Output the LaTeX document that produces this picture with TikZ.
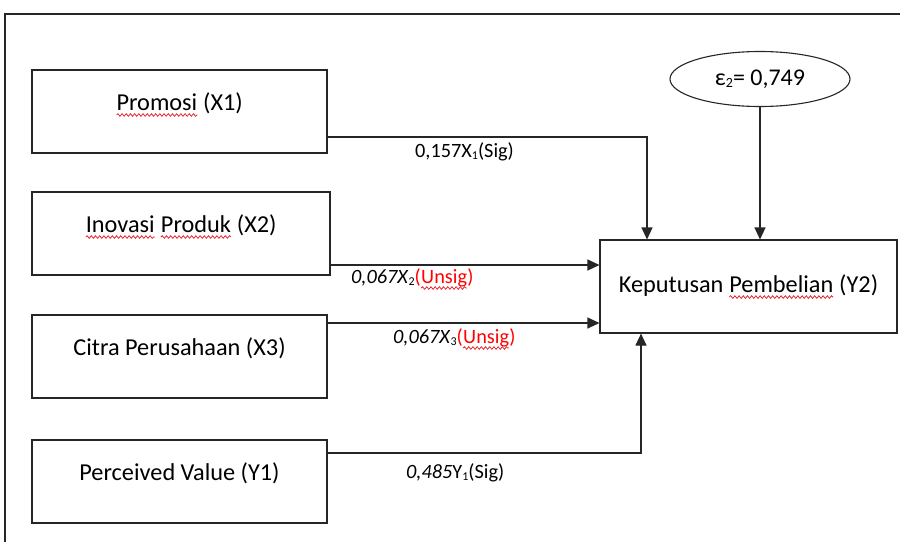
\documentclass[tikz,border=0pt]{standalone}
\usepackage{fontspec}
\setmainfont{Carlito}
\usetikzlibrary{arrows.meta,shapes.geometric,decorations.pathmorphing}
\definecolor{lineclr}{HTML}{262626}
\definecolor{waveclr}{HTML}{E8202A}
\newcommand\rwave[1]{\tikz[baseline=(rw.base),x=1pt,y=1pt]{\node[shape=rectangle,draw=none,fill=none,inner sep=0pt,outer sep=0pt,minimum width=0pt,minimum height=0pt,text height=,text depth=,anchor=base] (rw) at (0,0) {#1};
  \draw[waveclr,line width=0.75pt,decorate,decoration={snake,amplitude=1.3pt,segment length=4.2pt}] ([yshift=-5pt]rw.base west) -- ([yshift=-5pt]rw.base east);}}
\newcommand\smallsub[2]{\raisebox{-2pt}{\fontsize{#1}{#1}\selectfont\upshape #2}}
\begin{document}
\begin{tikzpicture}[x=1pt,y=-1pt,
  box/.style={draw=lineclr,line width=1.1pt,rectangle,inner sep=0pt,
    font=\fontsize{24.3}{28}\selectfont,text height=16pt,text depth=19pt},
  kbox/.style={draw=lineclr,line width=1.1pt,rectangle,inner sep=0pt,
    font=\fontsize{24.3}{28}\selectfont},
  lbl/.style={anchor=base west,inner sep=0pt,font=\fontsize{20.3}{24}\selectfont},
  arr/.style={draw=lineclr,line width=1.1pt,-{Triangle[length=12pt,width=11pt]}}]
\useasboundingbox (0,0) rectangle (900,542);
\draw[lineclr,line width=1.2pt] (5,542) -- (5,14) -- (900,14);

\node[box,minimum width=295pt,minimum height=83pt] (p) at (179.5,111.5) {\rwave{Promosi} (X1)};
\node[box,minimum width=298pt,minimum height=83pt] (i) at (181,233.5) {\rwave{Inovasi} \rwave{Produk} (X2)};
\node[box,minimum width=295pt,minimum height=83pt] (c) at (179.5,356.5) {Citra Perusahaan (X3)};
\node[box,minimum width=295pt,minimum height=83pt] (v) at (179.5,481.5) {Perceived Value (Y1)};
\node[kbox,minimum width=297pt,minimum height=93pt] (k) at (748.5,286.5) {Keputusan \rwave{Pembelian} (Y2)};
\node[ellipse,draw=lineclr,line width=1.1pt,minimum width=180pt,minimum height=55pt,inner sep=0pt,
  font=\fontsize{24}{28}\selectfont] (e) at (760,79) {ε\smallsub{14}{2}= 0,749};

\coordinate (a1) at ([yshift=-25.5pt]p.east);
\coordinate (b1) at ([xshift=-101.5pt]k.north);
\coordinate (a2) at ([yshift=-31.5pt]i.east);
\coordinate (a3) at ([yshift=33.5pt]c.east);
\coordinate (a4) at ([yshift=28.5pt]v.east);
\coordinate (b4) at ([xshift=-107.5pt]k.south);

\draw[arr] (a1) -| (b1);
\draw[arr] (e.south) -- (e.south |- k.north);
\draw[arr] (a2) -- (a2 -| k.west);
\draw[arr] (a3) -- (a3 -| k.west);
\draw[arr] (a4) -| (b4);

\node[lbl] (l1) at (415,157) {0,157X\smallsub{12}{1}(Sig)};
\node[lbl] (l2) at (351,283) {\textit{0,067X}\smallsub{12}{2}\textcolor{red}{(\rwave{Unsig})}};
\node[lbl] (l3) at (393,343) {\textit{0,067X}\smallsub{12}{3}\textcolor{red}{(\rwave{Unsig})}};
\node[lbl] (l4) at (406,478) {\textit{0,485}Y\smallsub{12}{1}(Sig)};
\end{tikzpicture}
\end{document}
